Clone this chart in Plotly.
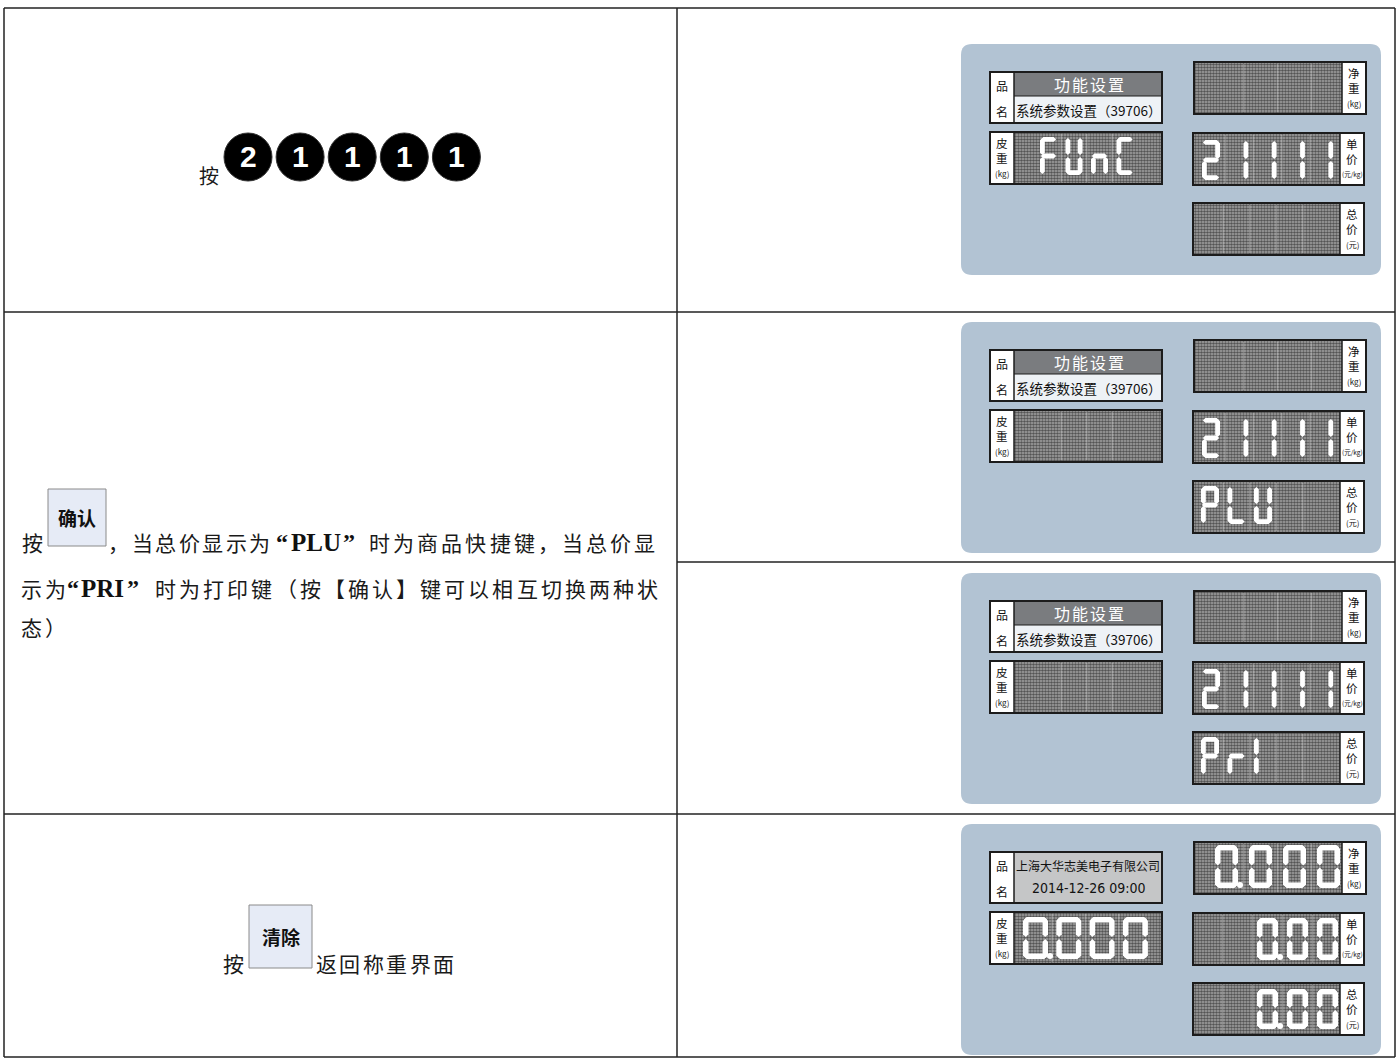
import plotly.graph_objects as go

# ---------------- data ----------------
key_sequence = ["2", "1", "1", "1", "1"]

row1_pre = "按"
row2_pre = "按"
row2_key = "确认"
row2_l1_a = "，"
row2_l1_b = "当总价显示为"
row2_l1_code = "PLU"
row2_l1_c = "时为商品快捷键，当总价显"
row2_l2_a = "示为"
row2_l2_code = "PRI"
row2_l2_b = "时为打印键（按【确认】键可以相互切换两种状"
row2_l3 = "态）"
row4_pre = "按"
row4_key = "清除"
row4_post = "返回称重界面"

name_line1 = ["功能设置", "功能设置", "功能设置", "上海大华志美电子有限公司"]
name_line2 = ["系统参数设置（39706）", "系统参数设置（39706）", "系统参数设置（39706）", "2014-12-26 09:00"]
tare_values = ["FUnC", "", "", "0.000"]
net_values = ["", "", "", "0.000"]
unit_values = ["21111", "21111", "21111", "  0.00"]
total_values = ["", "PLU", "PrI", "  0.00"]

label_name = ["品", "名"]
label_tare = ["皮", "重", "(kg)"]
label_net = ["净", "重", "(kg)"]
label_unit = ["单", "价", "(元/kg)"]
label_total = ["总", "价", "(元)"]

# ---------------- styles / layout ----------------
W, H = 1399, 1061
CJK = "Noto Sans CJK SC"
SERIF = "Liberation Serif"
TXT = "#1a1a1a"
PANEL_BG = "#b2c3d3"
BOX_LINE = "#1c1c1c"
KEY_FILL = "#e6ebf6"
KEY_LINE = "#8a8a8a"

SEG_MAP = {'0': 'abcdef', '1': 'bc', '2': 'abdeg', 'F': 'aefg', 'U': 'bcdef',
           'n': 'ceg', 'C': 'adef', 'P': 'abefg', 'L': 'def', 'r': 'eg', 'I': 'ef', ' ': ''}

PANEL_X = 961
PANEL_W, PANEL_H = 420, 231
panel_tops = [44, 322, 573, 824]

BOX = {"name": (29, 28, 201, 79), "tare": (29, 88, 201, 140), "net": (233, 18, 405, 70),
       "unit": (232, 89, 403, 141), "total": (232, 159, 403, 211)}
LW = 24

DIG_MENU = {"tare": dict(left=79, pitch=25.5, w=17, top=93, h=38, t=4.8, n=4),
            "net": dict(left=254, pitch=34, w=23, top=21, h=43, t=5, n=4),
            "unit": dict(left=241, pitch=28.3, w=18, top=96, h=40, t=4.8, n=5),
            "total": dict(left=240, pitch=26.5, w=18, top=164, h=38, t=4.8, n=5)}
DIG_WEIGH = {"tare": dict(left=62, pitch=33.3, w=25, top=93, h=42, t=5.5, n=4),
             "net": dict(left=254, pitch=34, w=23, top=21, h=43, t=5.5, n=4),
             "unit": dict(left=236, pitch=30, w=21, top=94, h=42, t=5.5, n=5),
             "total": dict(left=236, pitch=30, w=21, top=165, h=40, t=5.5, n=5)}

fig = go.Figure()
shapes = []
annos = []


def ann(x, y, text, size, color=TXT, family=CJK, xanchor="left", yanchor="middle"):
    annos.append(dict(x=x, y=y, xref="x", yref="y", text=text, showarrow=False,
                      xanchor=xanchor, yanchor=yanchor, borderpad=0,
                      font=dict(size=size, color=color, family=family)))


def run(text, x0, y, adv, size, color=TXT, family=CJK):
    for i, ch in enumerate(text):
        ann(x0 + i * adv, y, ch, size, color, family)


def rect(x0, y0, x1, y1, fill=None, line=None, lw=0, layer="above"):
    d = dict(type="rect", xref="x", yref="y", x0=x0, y0=y0, x1=x1, y1=y1, layer=layer)
    d["fillcolor"] = fill if fill else "rgba(0,0,0,0)"
    d["line"] = dict(color=line if line else "rgba(0,0,0,0)", width=lw)
    shapes.append(d)


def line(x0, y0, x1, y1, color="#222", w=1.5):
    shapes.append(dict(type="line", xref="x", yref="y", x0=x0, y0=y0, x1=x1, y1=y1,
                       line=dict(color=color, width=w)))


def poly(pts, fill):
    p = "M" + " L".join(f"{x:.2f},{y:.2f}" for x, y in pts) + " Z"
    shapes.append(dict(type="path", xref="x", yref="y", path=p, fillcolor=fill,
                       line=dict(width=0), layer="above"))


def rounded(x0, y0, x1, y1, r, fill):
    p = (f"M{x0+r},{y0} L{x1-r},{y0} Q{x1},{y0} {x1},{y0+r} L{x1},{y1-r} Q{x1},{y1} {x1-r},{y1} "
         f"L{x0+r},{y1} Q{x0},{y1} {x0},{y1-r} L{x0},{y0+r} Q{x0},{y0} {x0+r},{y0} Z")
    shapes.append(dict(type="path", xref="x", yref="y", path=p, fillcolor=fill,
                       line=dict(width=0), layer="below"))


def hseg(x0, x1, yc, t):
    h = t / 2
    poly([(x0, yc), (x0 + h, yc - h), (x1 - h, yc - h), (x1, yc), (x1 - h, yc + h), (x0 + h, yc + h)], "white")


def vseg(xc, y0, y1, t):
    h = t / 2
    poly([(xc, y0), (xc + h, y0 + h), (xc + h, y1 - h), (xc, y1), (xc - h, y1 - h), (xc - h, y0 + h)], "white")


def digit(L, T, w, h, t, segs, dot):
    g = 0.9
    mid = T + h / 2
    if 'a' in segs: hseg(L + g, L + w - g, T + t / 2, t)
    if 'b' in segs: vseg(L + w - t / 2, T + g, mid - g, t)
    if 'c' in segs: vseg(L + w - t / 2, mid + g, T + h - g, t)
    if 'd' in segs: hseg(L + g, L + w - g, T + h - t / 2, t)
    if 'e' in segs: vseg(L + t / 2, mid + g, T + h - g, t)
    if 'f' in segs: vseg(L + t / 2, T + g, mid - g, t)
    if 'g' in segs: hseg(L + g, L + w - g, mid, t)
    if dot:
        r = t / 2 + 0.3
        shapes.append(dict(type="circle", xref="x", yref="y", x0=L + w + 2 - r, x1=L + w + 2 + r,
                           y0=T + h - 2 * r, y1=T + h, fillcolor="white", line=dict(width=0)))


def cells(s):
    out = []
    for ch in s:
        if ch == '.' and out:
            out[-1][1] = True
        else:
            out.append([ch, False])
    return out


def display_area(x0, y0, x1, y1):
    fig.add_trace(go.Scatter(x=[x0, x1, x1, x0, x0], y=[y0, y0, y1, y1, y0], mode="lines",
                             line=dict(width=0), fill="toself", fillcolor="#7c7c7c",
                             fillpattern=dict(shape=".", fgcolor="#000000", bgcolor="#a9a9a9",
                                              size=3, solidity=0.6),
                             hoverinfo="skip", showlegend=False))


# ---------------- table grid ----------------
TX0, TX1, TY0, TY1 = 4, 1395, 8, 1057
COLX = 677
line(TX0, TY0, TX1, TY0)
line(TX0, TY1, TX1, TY1)
line(TX0, TY0, TX0, TY1)
line(TX1, TY0, TX1, TY1)
line(COLX, TY0, COLX, TY1)
line(TX0, 312, TX1, 312)
line(TX0, 814, TX1, 814)
line(COLX, 562, TX1, 562)

# ---------------- left column ----------------
# row 1
ann(198, 175, row1_pre, 20)
for i, k in enumerate(key_sequence):
    cx, cy, r = 248 + i * 52.1, 157, 24
    shapes.append(dict(type="circle", xref="x", yref="y", x0=cx - r, x1=cx + r, y0=cy - r, y1=cy + r,
                       fillcolor="black", line=dict(color="#333", width=1)))
    ann(cx, cy - 1, f"<b>{k}</b>", 30, "white", "Liberation Sans", xanchor="center")

# row 2
Y1, Y2, Y3 = 542, 588, 627
FS = 21
ann(21, Y1, row2_pre, FS)
rect(48, 489, 106, 546, KEY_FILL, KEY_LINE, 1)
ann(77, 517, f"<b>{row2_key}</b>", 19, "#111", xanchor="center")
ann(107, Y1, row2_l1_a, FS)
run(row2_l1_b, 131, Y1, 23.4, FS)
ann(275, Y1, "<b>“</b>", 24, "#111", SERIF)
ann(290, Y1, f"<b>{row2_l1_code}</b>", 25, "#111", SERIF)
ann(342, Y1, "<b>”</b>", 24, "#111", SERIF)
run(row2_l1_c, 368, Y1, 24.1, FS)

run(row2_l2_a, 20, Y2, 24, FS)
ann(66, Y2, "<b>“</b>", 24, "#111", SERIF)
ann(80, Y2, f"<b>{row2_l2_code}</b>", 25, "#111", SERIF)
ann(126, Y2, "<b>”</b>", 24, "#111", SERIF)
run(row2_l2_b, 154, Y2, 24.1, FS)
run(row2_l3, 20, Y3, 24, FS)

# row 4
Y4 = 963
ann(222, Y4, row4_pre, FS)
rect(249, 905, 312, 968, KEY_FILL, KEY_LINE, 1)
ann(281, 936, f"<b>{row4_key}</b>", 19, "#111", xanchor="center")
run(row4_post, 315, Y4, 23.4, FS)

# ---------------- panels ----------------
for p, top in enumerate(panel_tops):
    X = lambda v: PANEL_X + v
    Y = lambda v: top + v
    rounded(X(0), Y(0), X(PANEL_W), Y(PANEL_H), 11, PANEL_BG)
    weigh = (p == 3)
    dig = DIG_WEIGH if weigh else DIG_MENU

    # name box
    x0, y0, x1, y1 = BOX["name"]
    cx = X((x0 + LW + x1) / 2)
    rect(X(x0), Y(y0), X(x0 + LW), Y(y1), "white")
    if weigh:
        rect(X(x0 + LW), Y(y0), X(x1), Y(y1), "#c5c6c7")
        ann(cx, Y(41), name_line1[p], 12, "#111", xanchor="center")
        ann(cx, Y(64), name_line2[p], 14, "#111",
            "Liberation Sans Narrow, DejaVu Sans Condensed, Liberation Sans", xanchor="center")
    else:
        rect(X(x0 + LW), Y(y0), X(x1), Y(52), "#7a7c7f")
        rect(X(x0 + LW), Y(52), X(x1), Y(y1), "#eef2f6")
        line(X(x0 + LW), Y(52), X(x1), Y(52), BOX_LINE, 1)
        t1 = name_line1[p]
        adv = 18
        run(t1, cx - (len(t1) * adv) / 2 + 1, Y(40), adv, 16, "white")
        ann(cx, Y(66), name_line2[p], 13.5, "#111", xanchor="center")
    ann(X(x0 + LW / 2), Y(41), label_name[0], 12, "#111", xanchor="center")
    ann(X(x0 + LW / 2), Y(67), label_name[1], 12, "#111", xanchor="center")
    line(X(x0 + LW), Y(y0), X(x0 + LW), Y(y1), BOX_LINE, 1.5)
    rect(X(x0), Y(y0), X(x1), Y(y1), None, BOX_LINE, 2)

    # numeric boxes
    for key, labels, vals, left_label in [("tare", label_tare, tare_values, True),
                                          ("net", label_net, net_values, False),
                                          ("unit", label_unit, unit_values, False),
                                          ("total", label_total, total_values, False)]:
        x0, y0, x1, y1 = BOX[key]
        if left_label:
            lx0, lx1, dx0, dx1 = x0, x0 + LW, x0 + LW, x1
        else:
            lx0, lx1, dx0, dx1 = x1 - LW, x1, x0, x1 - LW
        display_area(X(dx0), Y(y0), X(dx1), Y(y1))
        g = dig[key]
        # lighter dither stripes between digit cells
        for i in range(1, g["n"]):
            sx = X(g["left"] + i * g["pitch"] - (g["pitch"] - g["w"]) / 2)
            line(sx, Y(y0 + 2), sx, Y(y1 - 2), "rgba(235,235,235,0.28)", 1.5)
        rect(X(lx0), Y(y0), X(lx1), Y(y1), "white")
        lc = X((lx0 + lx1) / 2)
        ann(lc, Y(y0 + 11), labels[0], 11.5, "#111", xanchor="center")
        ann(lc, Y(y0 + 26), labels[1], 11.5, "#111", xanchor="center")
        small = 6.5 if len(labels[2]) > 4 else 8
        ann(lc, Y(y0 + 41), labels[2], small, "#111", xanchor="center")
        bx = lx1 if left_label else lx0
        line(X(bx), Y(y0), X(bx), Y(y1), BOX_LINE, 1.5)
        rect(X(x0), Y(y0), X(x1), Y(y1), None, BOX_LINE, 2)

        for i, (ch, dot) in enumerate(cells(vals[p])):
            L = X(g["left"] + i * g["pitch"])
            digit(L, Y(g["top"]), g["w"], g["h"], g["t"], SEG_MAP.get(ch, ""), dot)

fig.update_layout(
    width=W, height=H, margin=dict(l=0, r=0, t=0, b=0),
    paper_bgcolor="white", plot_bgcolor="white",
    xaxis=dict(range=[0, W], visible=False, fixedrange=True),
    yaxis=dict(range=[H, 0], visible=False, fixedrange=True),
    shapes=shapes, annotations=annos, showlegend=False,
)
fig.write_html("out.html", config={"displayModeBar": False},
               post_script="document.body.style.margin='0px';document.body.style.overflow='hidden';")
